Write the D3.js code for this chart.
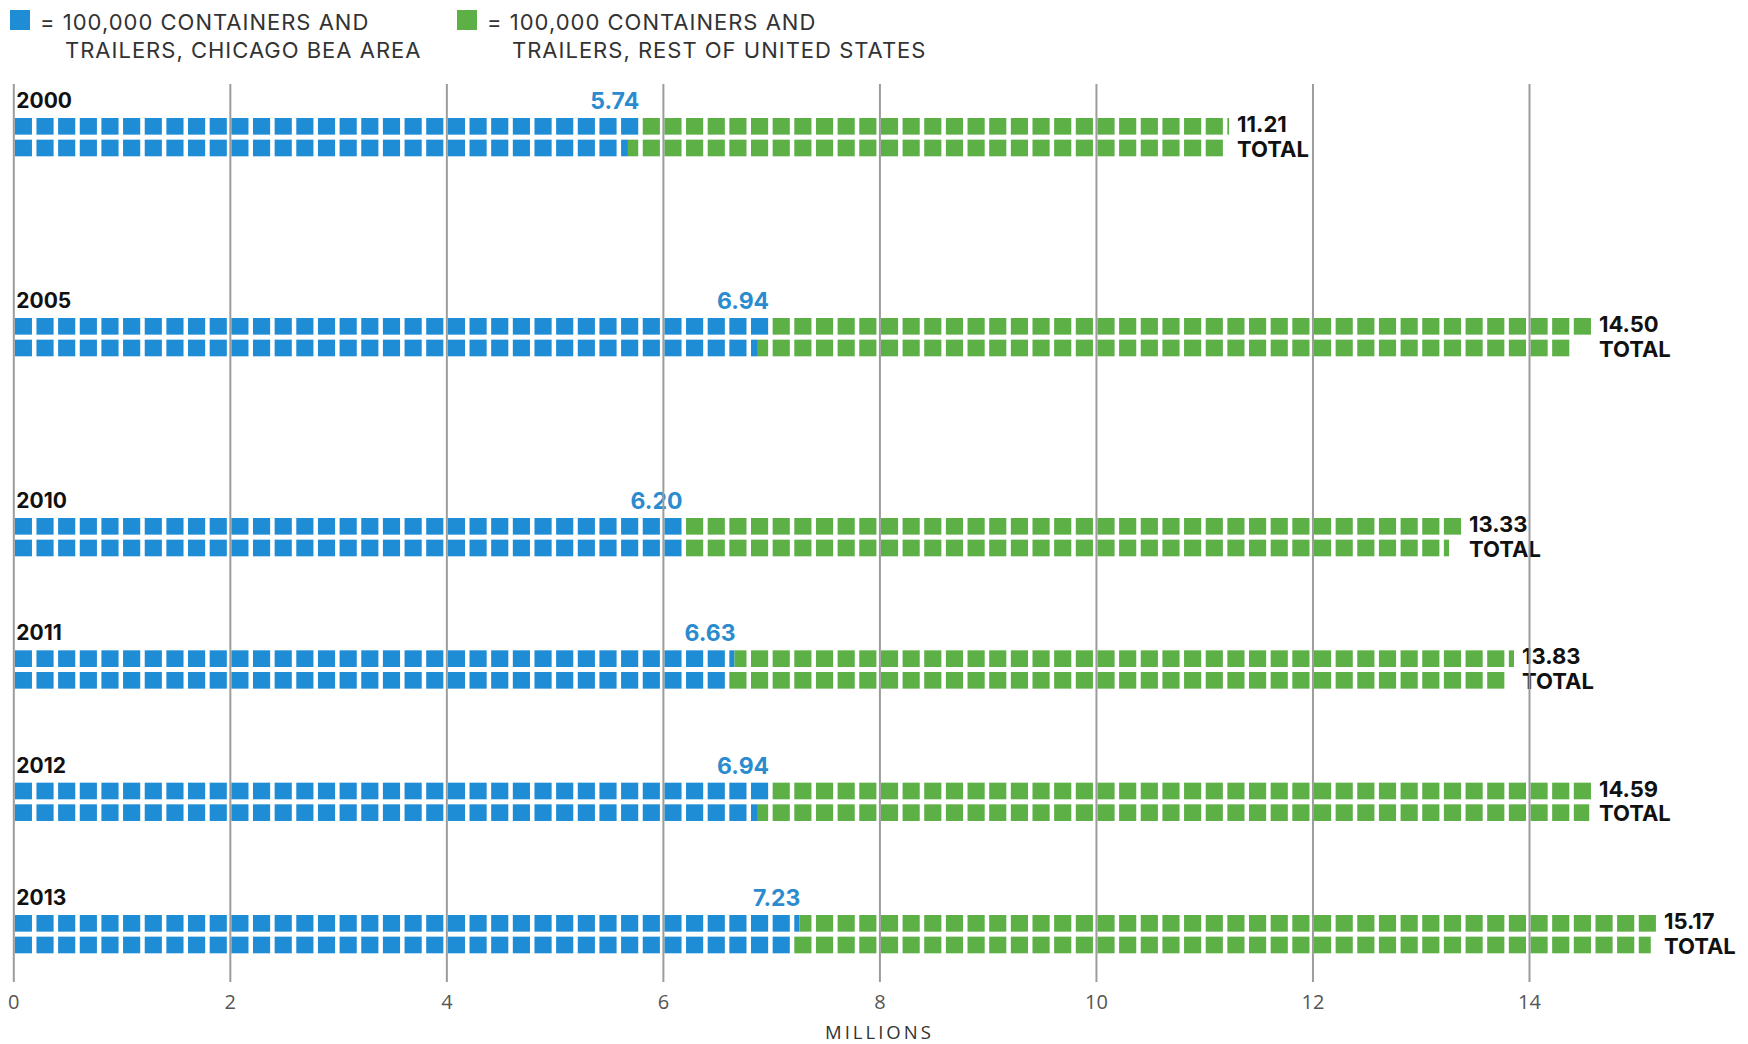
<!DOCTYPE html>
<html>
<head>
<meta charset="utf-8">
<script src="https://cdn.jsdelivr.net/npm/d3@7"></script>
<style>
  body { margin: 0; background: #fff; }
  svg { display: block; }
  text { font-family: "Open Sans", "DejaVu Sans", sans-serif; }
  .lbl { font-family: Inter, "Open Sans", sans-serif; font-weight: 700; }
  .leg { font-family: Inter, "Open Sans", sans-serif; font-size: 22px; letter-spacing: 1px; fill: #333; }
</style>
</head>
<body>
<div id="chart"></div>
<script>
// data, in millions of containers and trailers
const years = [2000, 2005, 2010, 2011, 2012, 2013];
const chicago = [5.74, 6.94, 6.20, 6.63, 6.94, 7.23];
const totals = [11.21, 14.50, 13.33, 13.83, 14.59, 15.17];
const xTicks = [0, 2, 4, 6, 8, 10, 12, 14];
const legendLines = [
  ["= 100,000 CONTAINERS AND", "TRAILERS, CHICAGO BEA AREA"],
  ["= 100,000 CONTAINERS AND", "TRAILERS, REST OF UNITED STATES"]
];
const axisTitle = "MILLIONS";
const perSquare = 0.1; // one square = 100,000

const W = 1748, H = 1044;
const blue = "#1e8dd5", green = "#5cb046";

const svg = d3.select("#chart").append("svg")
  .attr("width", W)
  .attr("height", H);

let x = d3.scaleLinear().domain([0, 14]).range([13.3, 1529]);
// rows are not evenly spaced, the 5-year gaps are squeezed
let y = d3.scaleLinear().domain([2000, 2010, 2013]).range([118, 518, 915]);

let pitch = x(2 * perSquare) - x(0);   // one column = two squares
let gap = 4.5;
let sq = pitch - gap;

// legend
let legend = svg.append("g");
let lg = legend.selectAll("g")
  .data(legendLines)
  .enter().append("g")
  .attr("transform", (d, i) => "translate(" + (i == 0 ? 10 : 457) + ",10)");
lg.append("rect")
  .attr("width", 20).attr("height", 20)
  .style("fill", (d, i) => i == 0 ? blue : green);
lg.append("text")
  .attr("class", "leg")
  .attr("x", 30).attr("y", 20)
  .text(d => d[0]);
lg.append("text")
  .attr("class", "leg")
  .attr("x", 55).attr("y", 48)
  .text(d => d[1]);

// build the squares, filled column by column (top, then bottom)
function cellsFor(i) {
  let nBlue = +(chicago[i] / perSquare).toFixed(2);
  let nAll = +(totals[i] / perSquare).toFixed(2);
  let out = [];
  for (let k = 0; k < Math.ceil(nAll); k++) {
    let col = Math.floor(k / 2), row = k % 2;
    let parts = [[0, nBlue, blue], [nBlue, nAll, green]];
    parts.forEach(p => {
      let a = Math.max(k, p[0]), b = Math.min(k + 1, p[1]);
      if (b - a > 0.001) {
        out.push({ col: col, row: row, a: a - k, b: b - k, color: p[2] });
      }
    });
  }
  return out;
}

let rows = svg.selectAll("g.year")
  .data(years)
  .enter().append("g")
  .attr("class", "year")
  .attr("transform", d => "translate(0," + y(d) + ")");

rows.each(function(yr, i) {
  let g = d3.select(this);
  let cells = cellsFor(i);
  let cellX = c => x(c.col * 2 * perSquare) + 1.5 + c.a * sq;

  g.selectAll("rect")
    .data(cells)
    .enter().append("rect")
    .attr("x", cellX)
    .attr("y", c => c.row * pitch)
    .attr("width", c => (c.b - c.a) * sq)
    .attr("height", sq - 0.5)
    .style("fill", c => c.color);

  let blueTop = d3.max(cells.filter(c => c.row == 0 && c.color == blue), c => cellX(c) + (c.b - c.a) * sq);
  let rightEnd = d3.max(cells, c => cellX(c) + (c.b - c.a) * sq);

  g.append("text")
    .attr("class", "lbl")
    .attr("x", x(0) + 3).attr("y", -10)
    .style("font-size", "21px").style("fill", "#111")
    .text(yr);

  g.append("text")
    .attr("class", "lbl")
    .attr("x", blueTop + 1).attr("y", -9)
    .attr("text-anchor", "end")
    .style("font-size", "23px").style("fill", "#2a8ccf")
    .text(chicago[i].toFixed(2));

  g.append("text")
    .attr("class", "lbl")
    .attr("x", rightEnd + 8).attr("y", 14)
    .style("font-size", "22px").style("fill", "#111")
    .text(totals[i].toFixed(2));
  g.append("text")
    .attr("class", "lbl")
    .attr("x", rightEnd + 8).attr("y", 38.5)
    .style("font-size", "22px").style("fill", "#111")
    .text("TOTAL");
});

// gridlines sit on top of the squares
let axis = d3.axisBottom(x)
  .tickValues(xTicks)
  .tickSize(-(982 - 84))
  .tickPadding(13)
  .tickFormat(d3.format("d"));

let ax = svg.append("g")
  .attr("transform", "translate(0,982)")
  .call(axis);
ax.select(".domain").remove();
ax.selectAll(".tick line")
  .style("stroke", "#9c9c9c")
  .style("stroke-width", 2);
ax.selectAll(".tick text")
  .style("font-size", "20px")
  .style("fill", "#555")
  .style("font-family", "'Open Sans', sans-serif");

svg.append("text")
  .attr("x", x(8)).attr("y", 1039)
  .attr("text-anchor", "middle")
  .style("font-size", "18.5px")
  .style("letter-spacing", "3px")
  .style("fill", "#333")
  .text(axisTitle);
</script>
</body>
</html>
